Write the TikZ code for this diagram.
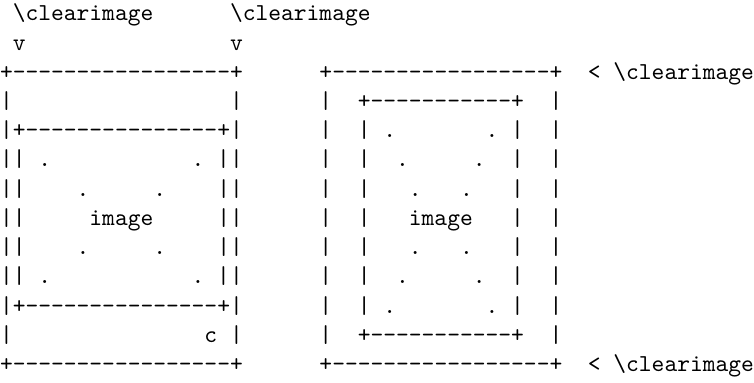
\documentclass[tikz,border=0pt]{standalone}
\begin{document}
\begin{tikzpicture}[
  ln/.style={anchor=base west, inner sep=0pt, outer sep=0pt,
    font=\ttfamily\fontsize{10pt}{12pt}\selectfont}]
\useasboundingbox (0pt,8.6pt) rectangle (309.75pt,-148.7pt);
\node[ln] (l0)  at (0pt,0pt)     {~\textbackslash clearimage~~~~~~\textbackslash clearimage};
\node[ln] (l1)  at (0pt,-12pt)   {~v~~~~~~~~~~~~~~~~v};
\node[ln] (l2)  at (0pt,-24pt)   {+-----------------+~~~~~~+-----------------+~~<~\textbackslash clearimage};
\node[ln] (l3)  at (0pt,-36pt)   {|~~~~~~~~~~~~~~~~~|~~~~~~|~~+-----------+~~|};
\node[ln] (l4)  at (0pt,-48pt)   {|+---------------+|~~~~~~|~~|~.~~~~~~~.~|~~|};
\node[ln] (l5)  at (0pt,-60pt)   {||~.~~~~~~~~~~~.~||~~~~~~|~~|~~.~~~~~.~~|~~|};
\node[ln] (l6)  at (0pt,-72pt)   {||~~~~.~~~~~.~~~~||~~~~~~|~~|~~~.~~~.~~~|~~|};
\node[ln] (l7)  at (0pt,-84pt)   {||~~~~~image~~~~~||~~~~~~|~~|~~~image~~~|~~|};
\node[ln] (l8)  at (0pt,-96pt)   {||~~~~.~~~~~.~~~~||~~~~~~|~~|~~~.~~~.~~~|~~|};
\node[ln] (l9)  at (0pt,-108pt)  {||~.~~~~~~~~~~~.~||~~~~~~|~~|~~.~~~~~.~~|~~|};
\node[ln] (l10) at (0pt,-120pt)  {|+---------------+|~~~~~~|~~|~.~~~~~~~.~|~~|};
\node[ln] (l11) at (0pt,-132pt)  {|~~~~~~~~~~~~~~~c~|~~~~~~|~~+-----------+~~|};
\node[ln] (l12) at (0pt,-144pt)  {+-----------------+~~~~~~+-----------------+~~<~\textbackslash clearimage};
\end{tikzpicture}
\end{document}
